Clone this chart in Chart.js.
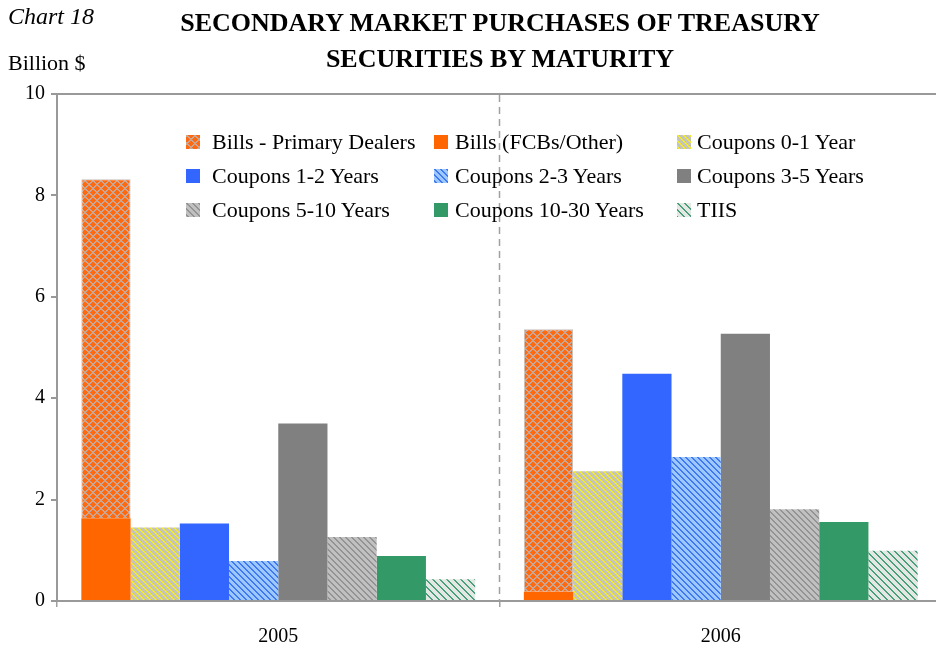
<!DOCTYPE html>
<html>
<head>
<meta charset="utf-8">
<script src="https://cdn.jsdelivr.net/npm/chart.js@4"></script>
<style>
    body { margin: 0; overflow: hidden; background: #fff; width: 936px; height: 648px; }
    #wrap { position: absolute; left: 0; top: 0; width: 942px; height: 648px; }
    .txt { position: absolute; font-family: "Liberation Serif", "DejaVu Serif", serif; color: #000; white-space: nowrap; }
    #chartNo { left: 8px; top: 3px; font-size: 24px; font-style: italic; }
    #unit { left: 8px; top: 50px; font-size: 22px; }
    #title { left: 150px; width: 700px; top: 5px; font-size: 26px; font-weight: bold; text-align: center; line-height: 36px; }
    .leg { position: absolute; font-family: "Liberation Serif", "DejaVu Serif", serif; font-size: 22px; white-space: nowrap; line-height: 24px; }
    .leg span.sw { position: absolute; left: 0; top: 5px; width: 14px; height: 14px; }
    .leg span.lb { position: absolute; top: 0; }
</style>
</head>
<body>
<div id="wrap">
    <canvas id="chart18" width="942" height="648"></canvas>
</div>
<div id="chartNo" class="txt">Chart 18</div>
<div id="unit" class="txt">Billion $</div>
<div id="title" class="txt">SECONDARY MARKET PURCHASES OF TREASURY<br>SECURITIES BY MATURITY</div>
<div id="legend"></div>

<script>
// Data (billions of dollars)
const years = ['2005', '2006'];
const billsPrimaryDealers = [6.69, 5.18];
const billsFCBsOther = [1.63, 0.18];
const coupons0to1 = [1.45, 2.56];
const coupons1to2 = [1.53, 4.48];
const coupons2to3 = [0.79, 2.84];
const coupons3to5 = [3.50, 5.27];
const coupons5to10 = [1.26, 1.81];
const coupons10to30 = [0.89, 1.56];
const tiis = [0.43, 0.99];
const yTicks = [0, 2, 4, 6, 8, 10];

/**
 * Small tile used as a fill pattern
 */
function makeTile(size, bg, fg, width, cross) {
    const c = document.createElement('canvas');
    c.width = size;
    c.height = size;
    const g = c.getContext('2d');
    g.fillStyle = bg;
    g.fillRect(0, 0, size, size);
    g.fillStyle = fg;
    for (let x = 0; x < size; x++) {
        for (let y = 0; y < size; y++) {
            const a = ((x - y) % size + size) % size;
            const b = (x + y) % size;
            if (a < width || (cross && b < width)) g.fillRect(x, y, 1, 1);
        }
    }
    return c;
}

const tiles = {
    primary: makeTile(8, '#ff6a10', '#c9a693', 2, true),
    c01: makeTile(6, '#c4c4b8', '#f2ea2a', 2, false),
    c23: makeTile(6, '#9cc8ff', '#3f78f0', 2, false),
    c510: makeTile(6, '#c0c0c0', '#939393', 2, false),
    tiis: makeTile(7, '#e4e8e4', '#4aa078', 2, false)
};

const ctx = document.getElementById('chart18').getContext('2d');
const pat = (t) => ctx.createPattern(tiles[t], 'repeat');

const datasets = [
    { label: 'Bills (FCBs/Other)', data: billsFCBsOther, stack: 'bills', backgroundColor: '#ff6600', legend: '#ff6600' },
    { label: 'Bills - Primary Dealers', data: billsPrimaryDealers, stack: 'bills', backgroundColor: pat('primary'), legend: 'primary', borderColor: '#c8c0bc', borderWidth: 1 },
    { label: 'Coupons 0-1 Year', data: coupons0to1, stack: 'c01', backgroundColor: pat('c01'), legend: 'c01' },
    { label: 'Coupons 1-2 Years', data: coupons1to2, stack: 'c12', backgroundColor: '#3366ff', legend: '#3366ff' },
    { label: 'Coupons 2-3 Years', data: coupons2to3, stack: 'c23', backgroundColor: pat('c23'), legend: 'c23' },
    { label: 'Coupons 3-5 Years', data: coupons3to5, stack: 'c35', backgroundColor: '#808080', legend: '#808080' },
    { label: 'Coupons 5-10 Years', data: coupons5to10, stack: 'c510', backgroundColor: pat('c510'), legend: 'c510' },
    { label: 'Coupons 10-30 Years', data: coupons10to30, stack: 'c1030', backgroundColor: '#339966', legend: '#339966' },
    { label: 'TIIS', data: tiis, stack: 'tiis', backgroundColor: pat('tiis'), legend: 'tiis' }
];

const serif = '"Liberation Serif", "DejaVu Serif", serif';

new Chart(ctx, {
    type: 'bar',
    data: { labels: years, datasets: datasets },
    options: {
        responsive: false,
        animation: false,
        devicePixelRatio: 1,
        layout: { padding: { top: 94, left: 0, right: 0, bottom: 0 } },
        datasets: { bar: { categoryPercentage: 0.89, barPercentage: 1.0 } },
        plugins: {
            legend: { display: false },
            title: { display: false },
            tooltip: { enabled: false }
        },
        scales: {
            x: {
                offset: true,
                grid: {
                    offset: true,
                    color: '#a0a0a0',
                    lineWidth: 1.5,
                    tickLength: 6,
                    drawOnChartArea: true
                },
                border: { display: true, color: '#999999', width: 2 },
                ticks: { color: '#000', font: { family: serif, size: 20 }, padding: 18 },
                afterFit: function(scale) { scale.height = 47; }
            },
            y: {
                stacked: true,
                min: 0,
                max: 10,
                afterBuildTicks: function(scale) {
                    scale.ticks = yTicks.map(v => ({ value: v }));
                },
                grid: {
                    drawOnChartArea: true,
                    color: function(c) { return c.tick && c.tick.value === 10 ? '#999999' : 'rgba(0,0,0,0)'; },
                    lineWidth: 2,
                    tickColor: '#999999',
                    tickLength: 6
                },
                border: { display: true, color: '#999999', width: 2 },
                ticks: { color: '#000', font: { family: serif, size: 20 }, padding: 6 },
                afterFit: function(scale) { scale.width = 57; }
            }
        }
    },
    plugins: [{
        id: 'dashedDivider',
        beforeDatasetsDraw: function(chart) {
            // redraw the inner category boundary as a dashed line
            const x = chart.scales.x;
            const a = chart.chartArea;
            const mid = (x.getPixelForValue(0) + x.getPixelForValue(1)) / 2;
            const c = chart.ctx;
            c.save();
            c.fillStyle = '#fff';
            c.fillRect(mid - 2, a.top + 1, 4, a.bottom - a.top - 2);
            c.strokeStyle = '#a0a0a0';
            c.lineWidth = 1.5;
            c.setLineDash([7, 5]);
            c.beginPath();
            c.moveTo(mid, a.top + 1);
            c.lineTo(mid, a.bottom);
            c.stroke();
            c.restore();
        }
    }]
});

// Three-column legend inside the plot
const legendOrder = [1, 0, 2, 3, 4, 5, 6, 7, 8];
const colX = [186, 434, 677];
const textGap = [26, 21, 20];
const rowY = [130, 164, 198];
const legendBox = document.getElementById('legend');
legendOrder.forEach(function(di, i) {
    const ds = datasets[di];
    const col = i % 3;
    const item = document.createElement('div');
    item.className = 'leg';
    item.style.left = colX[col] + 'px';
    item.style.top = rowY[Math.floor(i / 3)] + 'px';
    const sw = document.createElement('span');
    sw.className = 'sw';
    if (tiles[ds.legend]) {
        sw.style.backgroundImage = 'url(' + tiles[ds.legend].toDataURL() + ')';
    } else {
        sw.style.background = ds.legend;
    }
    const lb = document.createElement('span');
    lb.className = 'lb';
    lb.style.left = textGap[col] + 'px';
    lb.textContent = ds.label;
    item.appendChild(sw);
    item.appendChild(lb);
    legendBox.appendChild(item);
});
</script>
</body>
</html>
